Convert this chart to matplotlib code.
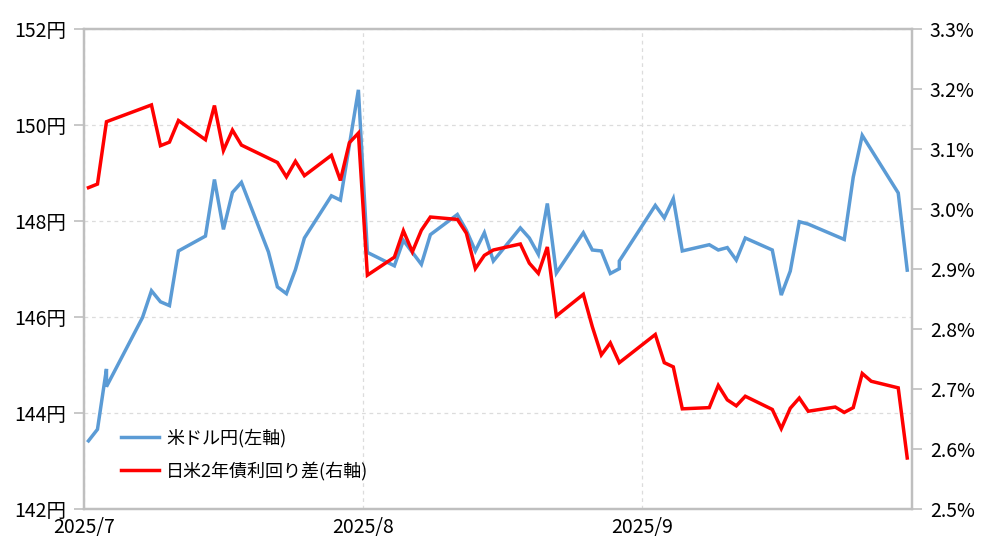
import matplotlib
matplotlib.use("Agg")
import matplotlib.pyplot as plt
import matplotlib.dates as mdates
from matplotlib.ticker import FuncFormatter, MultipleLocator
import pandas as pd

plt.rcParams['font.family'] = ['Noto Sans CJK JP', 'DejaVu Sans']

# --- data ---
usd_dates = ['2025-07-01', '2025-07-02', '2025-07-03', '2025-07-03', '2025-07-07',
             '2025-07-08', '2025-07-09', '2025-07-10', '2025-07-11', '2025-07-14',
             '2025-07-15', '2025-07-16', '2025-07-17', '2025-07-18', '2025-07-21',
             '2025-07-22', '2025-07-23', '2025-07-24', '2025-07-25', '2025-07-28',
             '2025-07-29', '2025-07-31', '2025-08-01', '2025-08-04', '2025-08-05',
             '2025-08-07', '2025-08-08', '2025-08-11', '2025-08-12', '2025-08-13',
             '2025-08-14', '2025-08-15', '2025-08-18', '2025-08-19', '2025-08-20',
             '2025-08-21', '2025-08-22', '2025-08-25', '2025-08-26', '2025-08-27',
             '2025-08-28', '2025-08-29', '2025-08-29', '2025-09-02', '2025-09-03',
             '2025-09-04', '2025-09-05', '2025-09-08', '2025-09-09', '2025-09-10',
             '2025-09-11', '2025-09-12', '2025-09-15', '2025-09-16', '2025-09-17',
             '2025-09-18', '2025-09-19', '2025-09-23', '2025-09-24', '2025-09-25',
             '2025-09-29', '2025-09-30']
usd_jpy = [143.42, 143.66, 144.92, 144.55, 145.99, 146.55, 146.32, 146.24, 147.38,
           147.69, 148.87, 147.83, 148.60, 148.81, 147.36, 146.63, 146.49, 146.99,
           147.65, 148.53, 148.44, 150.74, 147.35, 147.07, 147.60, 147.10, 147.72,
           148.14, 147.81, 147.38, 147.76, 147.17, 147.86, 147.65, 147.31, 148.37,
           146.92, 147.76, 147.40, 147.38, 146.91, 147.01, 147.17, 148.33, 148.07,
           148.47, 147.38, 147.51, 147.40, 147.45, 147.19, 147.65, 147.40, 146.46,
           146.96, 147.99, 147.94, 147.62, 148.92, 149.79, 148.59, 146.98]

spread_dates = ['2025-07-01', '2025-07-02', '2025-07-03', '2025-07-08', '2025-07-09',
                '2025-07-10', '2025-07-11', '2025-07-14', '2025-07-15', '2025-07-16',
                '2025-07-17', '2025-07-18', '2025-07-22', '2025-07-23', '2025-07-24',
                '2025-07-25', '2025-07-28', '2025-07-29', '2025-07-30', '2025-07-31',
                '2025-08-01', '2025-08-04', '2025-08-05', '2025-08-06', '2025-08-07',
                '2025-08-08', '2025-08-11', '2025-08-12', '2025-08-13', '2025-08-14',
                '2025-08-15', '2025-08-18', '2025-08-19', '2025-08-20', '2025-08-21',
                '2025-08-22', '2025-08-25', '2025-08-26', '2025-08-27', '2025-08-28',
                '2025-08-29', '2025-09-02', '2025-09-03', '2025-09-04', '2025-09-05',
                '2025-09-08', '2025-09-09', '2025-09-10', '2025-09-11', '2025-09-12',
                '2025-09-15', '2025-09-16', '2025-09-17', '2025-09-18', '2025-09-19',
                '2025-09-22', '2025-09-23', '2025-09-24', '2025-09-25', '2025-09-26',
                '2025-09-29', '2025-09-30']
spread = [3.036, 3.042, 3.146, 3.174, 3.106, 3.112, 3.148, 3.116, 3.173, 3.098,
          3.132, 3.107, 3.078, 3.054, 3.080, 3.056, 3.090, 3.048, 3.111, 3.127,
          2.890, 2.920, 2.964, 2.929, 2.965, 2.987, 2.983, 2.960, 2.901, 2.923,
          2.932, 2.942, 2.910, 2.893, 2.937, 2.822, 2.858, 2.804, 2.757, 2.777,
          2.744, 2.791, 2.744, 2.737, 2.667, 2.669, 2.706, 2.682, 2.672, 2.688,
          2.666, 2.634, 2.668, 2.685, 2.663, 2.670, 2.661, 2.669, 2.726, 2.713,
          2.702, 2.585]

label_usd = '米ドル円(左軸)'
label_spread = '日米2年債利回り差(右軸)'

# points sit mid-day on the date axis
x_usd = pd.to_datetime(usd_dates) + pd.Timedelta(hours=12)
x_spread = pd.to_datetime(spread_dates) + pd.Timedelta(hours=12)

fig = plt.figure(figsize=(9.88, 5.55), dpi=100)
ax = fig.add_axes([0.085, 0.083, 0.8378, 0.864])
ax2 = ax.twinx()

l1, = ax.plot(x_usd, usd_jpy, color='#5B9BD5', lw=2.5, solid_joinstyle='miter')
l2, = ax2.plot(x_spread, spread, color='#FF0000', lw=2.5, solid_joinstyle='miter')

ax.set_xlim(pd.Timestamp('2025-07-01'), pd.Timestamp('2025-10-01'))
ax.set_ylim(142, 152)
ax2.set_ylim(2.5, 3.3)

ax.yaxis.set_major_locator(MultipleLocator(2))
ax.yaxis.set_major_formatter(FuncFormatter(lambda v, p: f'{v:.0f}円'))
ax2.yaxis.set_major_locator(MultipleLocator(0.1))
ax2.yaxis.set_major_formatter(FuncFormatter(lambda v, p: f'{v:.1f}%'))

ax.xaxis.set_major_locator(mdates.MonthLocator(bymonth=[7, 8, 9]))
ax.xaxis.set_major_formatter(FuncFormatter(
    lambda v, p: f'{mdates.num2date(v).year}/{mdates.num2date(v).month}'))

grid_kw = dict(color='#dcdcdc', linestyle=(0, (3, 3)), linewidth=0.9)
ax.grid(True, **grid_kw)

for a in (ax, ax2):
    for s in a.spines.values():
        s.set_color('#bfbfbf')
        s.set_linewidth(1.6)

ax.tick_params(axis='y', direction='out', length=7, width=1.2, color='#bfbfbf',
               labelsize=14, pad=6)
ax2.tick_params(axis='y', direction='out', length=7, width=1.2, color='#bfbfbf',
                labelsize=14, pad=6)
ax.tick_params(axis='x', length=0, labelsize=14, pad=6)

ax2.legend([l1, l2], [label_usd, label_spread], loc='lower left',
           bbox_to_anchor=(0.036, 0.044), frameon=False, fontsize=13,
           handlelength=2.1, handletextpad=0.4, labelspacing=0.8, borderaxespad=0)

fig.savefig('out.png', dpi=100)
